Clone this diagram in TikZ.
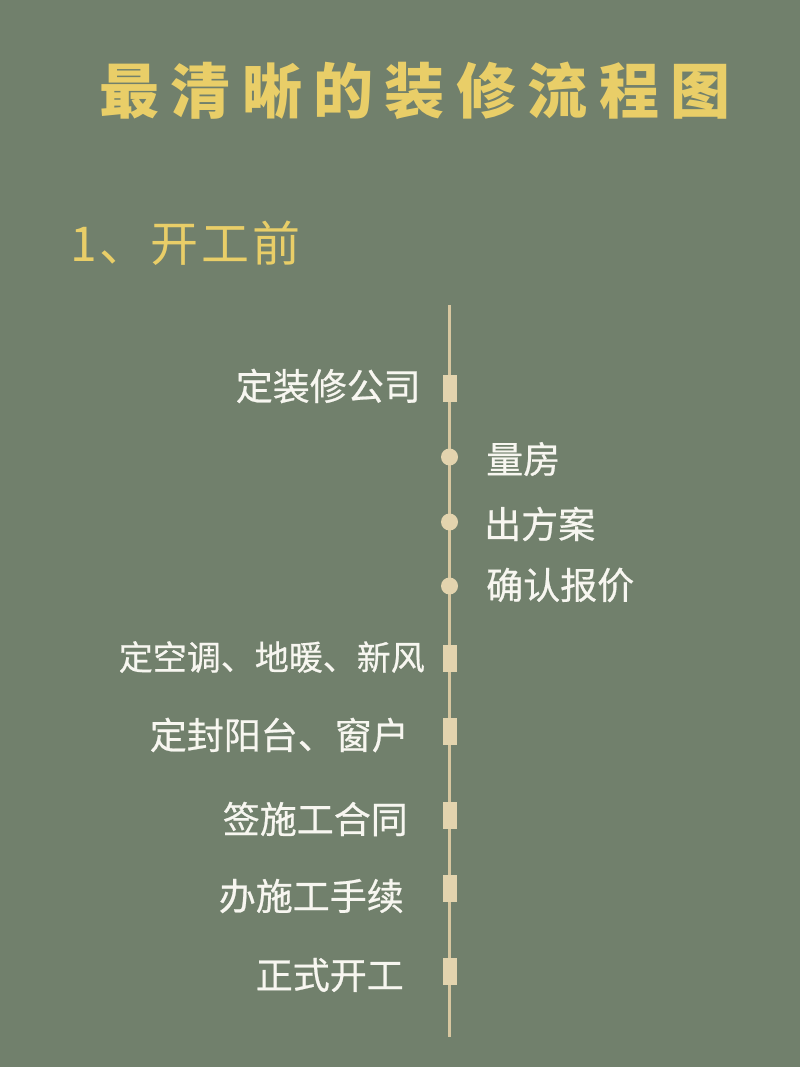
\documentclass[tikz,border=0pt]{standalone}
\usepackage{fontspec}
\newfontfamily\cjk{Noto Sans CJK SC}[FakeBold=0.6]
\newfontfamily\cjktitle{Noto Sans CJK SC}[LetterSpace=19]
\newfontfamily\cjksub{Noto Sans CJK SC}[LetterSpace=6]
\definecolor{bg}{HTML}{71806C}
\definecolor{beige}{HTML}{D8C7A0}
\definecolor{mark}{HTML}{E3D4AE}
\definecolor{gold}{HTML}{E9CE68}
\definecolor{wht}{HTML}{F7F6F0}
\tikzset{
  title/.style={inner sep=0pt, text=gold, font=\cjktitle\bfseries\fontsize{60}{60}\selectfont},
  subtitle/.style={inner sep=0pt, text=gold, font=\cjksub\fontsize{48}{48}\selectfont},
  lbl/.style={inner sep=0pt, text=wht, font=\cjk\fontsize{37}{37}\selectfont},
  lblsmall/.style={lbl, font=\cjk\fontsize{34}{34}\selectfont},
  rmark/.style={rectangle, fill=mark, draw=none, minimum width=14pt, minimum height=27pt, inner sep=0pt},
  cmark/.style={circle, fill=mark, draw=none, minimum size=17pt, inner sep=0pt},
  spine/.style={draw=beige, line width=3pt}
}
\begin{document}
\begin{tikzpicture}[x=1pt,y=-1pt]
\fill[bg] (0,0) rectangle (800,1067);
\useasboundingbox (0,0) rectangle (800,1067);

\node[title] (t) at (415,91) {最清晰的装修流程图};
\node[subtitle, anchor=west] (s) at (70,243) {1、开工前};

\coordinate (top) at (449.5,305);
\coordinate (bot) at (449.5,1037);
\draw[spine] (top) -- (bot);

\node[rmark] (m1) at (449.5,388) {};
\node[cmark] (m2) at (449.5,457) {};
\node[cmark] (m3) at (449.5,522) {};
\node[cmark] (m4) at (449.5,586) {};
\node[rmark] (m5) at (449.5,658) {};
\node[rmark] (m6) at (449.5,731) {};
\node[rmark] (m7) at (449.5,815) {};
\node[rmark] (m8) at (449.5,888) {};
\node[rmark] (m9) at (449.5,971) {};

\node[lbl, anchor=east] (l1) at (421,386) {定装修公司};
\node[lbl, anchor=west] (l2) at (486,459) {量房};
\node[lbl, anchor=west] (l3) at (484,524) {出方案};
\node[lbl, anchor=west] (l4) at (486,585) {确认报价};
\node[lblsmall, anchor=east] (l5) at (425,657) {定空调、地暖、新风};
\node[lbl, anchor=east] (l6) at (409,735) {定封阳台、窗户};
\node[lbl, anchor=east] (l7) at (408,819) {签施工合同};
\node[lbl, anchor=east] (l8) at (404,896) {办施工手续};
\node[lbl, anchor=east] (l9) at (404,975) {正式开工};
\end{tikzpicture}
\end{document}
